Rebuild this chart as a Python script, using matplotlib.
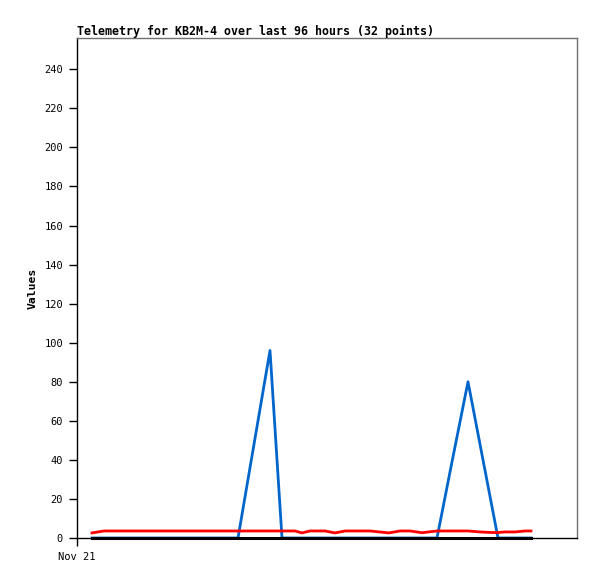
import matplotlib
matplotlib.use("Agg")
import matplotlib.pyplot as plt

# time of each sample, hours since Nov 21 00:00
hours = [3.0, 5.4, 8.6, 12.6, 16.6, 20.6, 24.6, 28.6, 32.2, 38.6, 41.0, 43.6,
         45.0, 46.6, 49.6, 51.6, 53.6, 58.6, 62.4, 64.6, 66.6, 69.0, 72.0, 75.0,
         78.2, 80.6, 83.0, 84.2, 85.6, 87.6, 89.6, 90.8]
blue_vals = [0, 0, 0, 0, 0, 0, 0, 0, 0, 96, 0, 0,
             0, 0, 0, 0, 0, 0, 0, 0, 0, 0, 0, 39,
             80, 48, 16, 0, 0, 0, 0, 0]
red_vals = [2.6, 3.6, 3.6, 3.6, 3.6, 3.6, 3.6, 3.6, 3.6, 3.6, 3.6, 3.6,
            2.6, 3.6, 3.6, 2.6, 3.6, 3.6, 2.6, 3.6, 3.6, 2.7, 3.6, 3.6,
            3.6, 3.1, 2.8, 2.8, 3.1, 3.1, 3.6, 3.6]
black_vals = [0] * 32
yticks = list(range(0, 241, 20))
xtick_labels = ["Nov 21"]

fig = plt.figure(figsize=(5.97, 5.79), dpi=100)
ax = fig.add_axes([77/597, 41/579, 500/597, 500/579])

ax.plot(hours, blue_vals, color="#0066cc", lw=2.0, clip_on=False, zorder=3)
ax.plot(hours, red_vals, color="#ff0000", lw=2.0, clip_on=False, zorder=4)
ax.plot(hours, black_vals, color="#000000", lw=2.2, clip_on=False, zorder=5)

ax.set_xlim(0, 100)
ax.set_ylim(0, 256)
ax.set_yticks(yticks)
ax.set_yticklabels([str(v) for v in yticks], fontfamily="DejaVu Sans Mono", fontsize=7.5)
ax.set_xticks([0])
ax.set_xticklabels(xtick_labels, fontfamily="DejaVu Sans Mono", fontsize=7.5)
ax.tick_params(axis="both", direction="out", length=6, width=1, color="black", pad=4)

for s in ["left", "bottom"]:
    ax.spines[s].set_color("black")
    ax.spines[s].set_linewidth(1)
for s in ["top", "right"]:
    ax.spines[s].set_color("#707070")
    ax.spines[s].set_linewidth(1)

ax.set_title("Telemetry for KB2M-4 over last 96 hours (32 points)", loc="left",
             fontfamily="DejaVu Sans Mono", fontweight="bold", fontsize=8.35, pad=2)
ax.set_ylabel("Values", fontfamily="DejaVu Sans Mono", fontweight="bold", fontsize=8.2, labelpad=5)

fig.savefig("out.png", dpi=100)
